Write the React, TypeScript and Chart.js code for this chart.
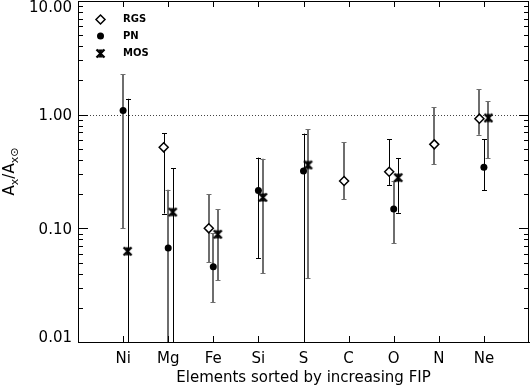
import React, { useEffect, useRef } from 'react';
import { Chart, registerables } from 'chart.js';

Chart.register(...registerables);

// ---------------- data ----------------
const categories = ['Ni', 'Mg', 'Fe', 'Si', 'S', 'C', 'O', 'N', 'Ne'];

const rgsValues = [null, 0.516, 0.1, null, null, 0.261, 0.315, 0.548, 0.922];
const rgsLow = [null, 0.135, 0.0506, null, null, 0.18, 0.241, 0.366, 0.667];
const rgsHigh = [null, 0.685, 0.2, null, null, 0.571, 0.607, 1.16, 1.67];

const pnValues = [1.09, 0.0673, 0.046, 0.215, 0.32, null, 0.148, null, 0.344];
const pnLow = [0.1, 0, 0.0223, 0.0545, 0, null, 0.0738, null, 0.216];
const pnHigh = [2.26, 0.219, 0.0903, 0.419, 0.681, null, 0.261, null, 0.606];

const mosValues = [0.0628, 0.139, 0.0886, 0.187, 0.361, null, 0.279, null, 0.935];
const mosLow = [0, 0, 0.0352, 0.0405, 0.0366, null, 0.137, null, 0.413];
const mosHigh = [1.38, 0.337, 0.147, 0.41, 0.743, null, 0.416, null, 1.31];

const yTickValues = [0.01, 0.1, 1, 10];
const yTickLabels = ['0.01', '0.10', '1.00', '10.00'];
const yMinorMultipliers = [2, 3, 4, 5, 6, 7, 8, 9];
const referenceLevel = 1;

const xTitle = 'Elements sorted by increasing FIP';

// ---------------- styles ----------------
const FONT = '"DejaVu Sans", sans-serif';
const GRAY = '#6e6e6e';
const BLACK = '#000000';
// 'k' = dark thin bar, 'g' = grey (wider, softer) bar
const rgsBarStyle = [null, 'k', 'g', null, null, 'g', 'k', 'g', 'g'];
const pnBarStyle = ['g', 'g', 'g', 'k', 'k', null, 'g', null, 'k'];
const mosBarStyle = ['k', 'k', 'g', 'g', 'g', null, 'k', null, 'g'];

function makeMosMarker(): HTMLCanvasElement {
  const c = document.createElement('canvas');
  c.width = 11;
  c.height = 11;
  const g = c.getContext('2d')!;
  g.strokeStyle = BLACK;
  g.fillStyle = BLACK;
  g.lineWidth = 2.2;
  g.beginPath();
  g.moveTo(1.5, 1.5);
  g.lineTo(9.5, 9.5);
  g.moveTo(9.5, 1.5);
  g.lineTo(1.5, 9.5);
  g.stroke();
  g.beginPath();
  g.moveTo(3, 1.5);
  g.lineTo(8, 1.5);
  g.lineTo(5.5, 4.5);
  g.closePath();
  g.fill();
  g.beginPath();
  g.moveTo(3, 9.5);
  g.lineTo(8, 9.5);
  g.lineTo(5.5, 6.5);
  g.closePath();
  g.fill();
  return c;
}

type SeriesDef = {
  label: string;
  values: (number | null)[];
  low: (number | null)[];
  high: (number | null)[];
  bars: (string | null)[];
  offset: number;
  kind: 'diamond' | 'dot' | 'mos';
};

const seriesDefs: SeriesDef[] = [
  { label: 'RGS', values: rgsValues, low: rgsLow, high: rgsHigh, bars: rgsBarStyle, offset: -0.1, kind: 'diamond' },
  { label: 'PN', values: pnValues, low: pnLow, high: pnHigh, bars: pnBarStyle, offset: 0, kind: 'dot' },
  { label: 'MOS', values: mosValues, low: mosLow, high: mosHigh, bars: mosBarStyle, offset: 0.1, kind: 'mos' },
];

function drawSymbol(ctx: CanvasRenderingContext2D, kind: string, x: number, y: number, mos: HTMLCanvasElement) {
  ctx.save();
  if (kind === 'diamond') {
    const r = 4.5;
    ctx.beginPath();
    ctx.moveTo(x - r, y);
    ctx.lineTo(x, y - r);
    ctx.lineTo(x + r, y);
    ctx.lineTo(x, y + r);
    ctx.closePath();
    ctx.fillStyle = '#fff';
    ctx.fill();
    ctx.lineWidth = 1.5;
    ctx.strokeStyle = BLACK;
    ctx.stroke();
  } else if (kind === 'dot') {
    ctx.beginPath();
    ctx.arc(x, y, 3.5, 0, Math.PI * 2);
    ctx.fillStyle = BLACK;
    ctx.fill();
  } else {
    ctx.drawImage(mos, x - mos.width / 2, y - mos.height / 2);
  }
  ctx.restore();
}

export default function App() {
  const canvasRef = useRef<HTMLCanvasElement | null>(null);

  useEffect(() => {
    document.body.style.margin = '0';
    const canvas = canvasRef.current;
    if (!canvas) return;
    const mosMarker = makeMosMarker();

    const errorBars = {
      id: 'errorBars',
      beforeDatasetsDraw(chart: any) {
        const { ctx, chartArea, scales } = chart;
        const xs = scales.x;
        const ys = scales.y;
        ctx.save();
        ctx.beginPath();
        ctx.rect(chartArea.left, chartArea.top, chartArea.right - chartArea.left, chartArea.bottom - chartArea.top);
        ctx.clip();
        // reference dotted line
        const yr = Math.round(ys.getPixelForValue(referenceLevel)) + 0.5;
        ctx.setLineDash([1, 2]);
        ctx.strokeStyle = '#444';
        ctx.lineWidth = 1;
        ctx.beginPath();
        ctx.moveTo(chartArea.left, yr);
        ctx.lineTo(chartArea.right, yr);
        ctx.stroke();
        ctx.setLineDash([]);

        seriesDefs.forEach((s) => {
          s.values.forEach((v, i) => {
            if (v == null) return;
            const lo = s.low[i] as number;
            const hi = s.high[i] as number;
            const grey = s.bars[i] === 'g';
            const raw = xs.getPixelForValue(i + 1 + s.offset);
            const px = grey ? Math.round(raw) : Math.round(raw) + 0.5;
            const yHi = ys.getPixelForValue(hi);
            const clipped = !(lo > 0);
            const yLo = clipped ? chartArea.bottom + 2 : ys.getPixelForValue(lo);
            ctx.strokeStyle = grey ? GRAY : BLACK;
            ctx.lineWidth = grey ? 2 : 1;
            ctx.beginPath();
            ctx.moveTo(px, yHi);
            ctx.lineTo(px, yLo);
            ctx.stroke();
            ctx.lineWidth = 1;
            ctx.beginPath();
            const yh = Math.round(yHi) + 0.5;
            ctx.moveTo(px - 2.5, yh);
            ctx.lineTo(px + 2.5, yh);
            if (!clipped) {
              const yl = Math.round(yLo) + 0.5;
              ctx.moveTo(px - 2.5, yl);
              ctx.lineTo(px + 2.5, yl);
            }
            ctx.stroke();
          });
        });
        ctx.restore();
      },
    };

    const decorations = {
      id: 'decorations',
      afterDraw(chart: any) {
        const { ctx, chartArea, scales } = chart;
        const xs = scales.x;
        const ys = scales.y;
        const L = chartArea.left;
        const R = chartArea.right;
        const T = chartArea.top;
        const B = chartArea.bottom;
        ctx.save();
        ctx.strokeStyle = BLACK;
        ctx.lineWidth = 1;
        // frame (top and right)
        ctx.beginPath();
        ctx.moveTo(L, T + 0.5);
        ctx.lineTo(R, T + 0.5);
        ctx.moveTo(R - 0.5, T);
        ctx.lineTo(R - 0.5, B);
        ctx.stroke();
        // x ticks bottom & top
        ctx.beginPath();
        xs.ticks.forEach((t: any) => {
          const px = Math.round(xs.getPixelForValue(t.value)) + 0.5;
          ctx.moveTo(px, B);
          ctx.lineTo(px, B - 6);
          ctx.moveTo(px, T);
          ctx.lineTo(px, T + 6);
        });
        // y major & minor ticks
        yTickValues.forEach((v, k) => {
          const py = Math.round(ys.getPixelForValue(v)) + 0.5;
          ctx.moveTo(L, py);
          ctx.lineTo(L + 10, py);
          ctx.moveTo(R, py);
          ctx.lineTo(R - 10, py);
          if (k < yTickValues.length - 1) {
            yMinorMultipliers.forEach((m) => {
              const pm = Math.round(ys.getPixelForValue(v * m)) + 0.5;
              ctx.moveTo(L, pm);
              ctx.lineTo(L + 5, pm);
              ctx.moveTo(R, pm);
              ctx.lineTo(R - 5, pm);
            });
          }
        });
        ctx.stroke();

        // y tick labels
        ctx.fillStyle = BLACK;
        ctx.font = `15px ${FONT}`;
        ctx.textAlign = 'right';
        ctx.textBaseline = 'alphabetic';
        yTickValues.forEach((v, k) => {
          let cy = ys.getPixelForValue(v);
          cy = Math.min(Math.max(cy, T + 5.5), B - 5.5);
          ctx.fillText(yTickLabels[k], L - 6, cy + 5.5);
        });

        // y title A_x / A_x⊙
        const parts: [string, number, number][] = [
          ['A', 15, 0],
          ['x', 11, 3.5],
          ['/', 15, 0],
          ['A', 15, 0],
          ['x⊙', 11, 3.5],
        ];
        let total = 0;
        parts.forEach(([t, s]) => {
          ctx.font = `${s}px ${FONT}`;
          total += ctx.measureText(t).width;
        });
        ctx.save();
        ctx.translate(14, (T + B) / 2);
        ctx.rotate(-Math.PI / 2);
        ctx.textAlign = 'left';
        let cx = -total / 2;
        parts.forEach(([t, s, dy]) => {
          ctx.font = `${s}px ${FONT}`;
          ctx.fillText(t, cx, dy);
          cx += ctx.measureText(t).width;
        });
        ctx.restore();

        // legend
        const rows = [18.5, 35, 52.5];
        ctx.font = `bold 10px ${FONT}`;
        ctx.textAlign = 'left';
        ctx.textBaseline = 'middle';
        seriesDefs.forEach((s, k) => {
          const y = T + rows[k];
          drawSymbol(ctx, s.kind, L + 22.5, y, mosMarker);
          ctx.fillStyle = BLACK;
          ctx.fillText(s.label, L + 45, y);
        });
        ctx.restore();
      },
    };

    const datasets = seriesDefs.map((s) => {
      const data: { x: number; y: number }[] = [];
      s.values.forEach((v, i) => {
        if (v != null) data.push({ x: i + 1 + s.offset, y: v });
      });
      const common: any = {
        label: s.label,
        data,
        showLine: false,
        borderColor: BLACK,
      };
      if (s.kind === 'diamond') {
        return { ...common, pointStyle: 'rectRot', pointRadius: 4.5, backgroundColor: '#fff', borderWidth: 1.5 };
      }
      if (s.kind === 'dot') {
        return { ...common, pointStyle: 'circle', pointRadius: 3.5, backgroundColor: BLACK, borderWidth: 0 };
      }
      return { ...common, pointStyle: mosMarker, pointRadius: 5.5, backgroundColor: BLACK, borderWidth: 0 };
    });

    const chart = new Chart(canvas, {
      type: 'scatter',
      data: { datasets },
      plugins: [errorBars, decorations],
      options: {
        animation: false,
        responsive: false,
        devicePixelRatio: 1,
        layout: { autoPadding: false, padding: { top: 1, right: 1, left: 0, bottom: 0 } },
        plugins: { legend: { display: false }, tooltip: { enabled: false } },
        scales: {
          x: {
            type: 'linear',
            min: 0,
            max: categories.length + 1,
            afterBuildTicks: (scale: any) => {
              scale.ticks = categories.map((_, i) => ({ value: i + 1 }));
            },
            afterFit: (scale: any) => {
              scale.height = 48;
            },
            ticks: {
              autoSkip: false,
              maxRotation: 0,
              padding: 8,
              color: BLACK,
              font: { family: FONT, size: 15 },
              callback: (v: any) => categories[Math.round(v) - 1] ?? '',
            },
            grid: { display: false, drawTicks: false },
            border: { display: true, color: BLACK, width: 1 },
            title: {
              display: true,
              text: xTitle,
              color: BLACK,
              font: { family: FONT, size: 15 },
              padding: { top: 0, bottom: 3 },
            },
          },
          y: {
            type: 'logarithmic',
            min: yTickValues[0],
            max: yTickValues[yTickValues.length - 1],
            afterFit: (scale: any) => {
              scale.width = 78;
              scale.paddingTop = 0;
              scale.paddingBottom = 0;
            },
            ticks: { display: false },
            grid: { display: false, drawTicks: false },
            border: { display: true, color: BLACK, width: 1 },
          },
        },
      },
    });
    return () => chart.destroy();
  }, []);

  return (
    <div style={{ width: 530, height: 390 }}>
      <canvas ref={canvasRef} width={530} height={390} style={{ display: 'block' }} />
    </div>
  );
}
